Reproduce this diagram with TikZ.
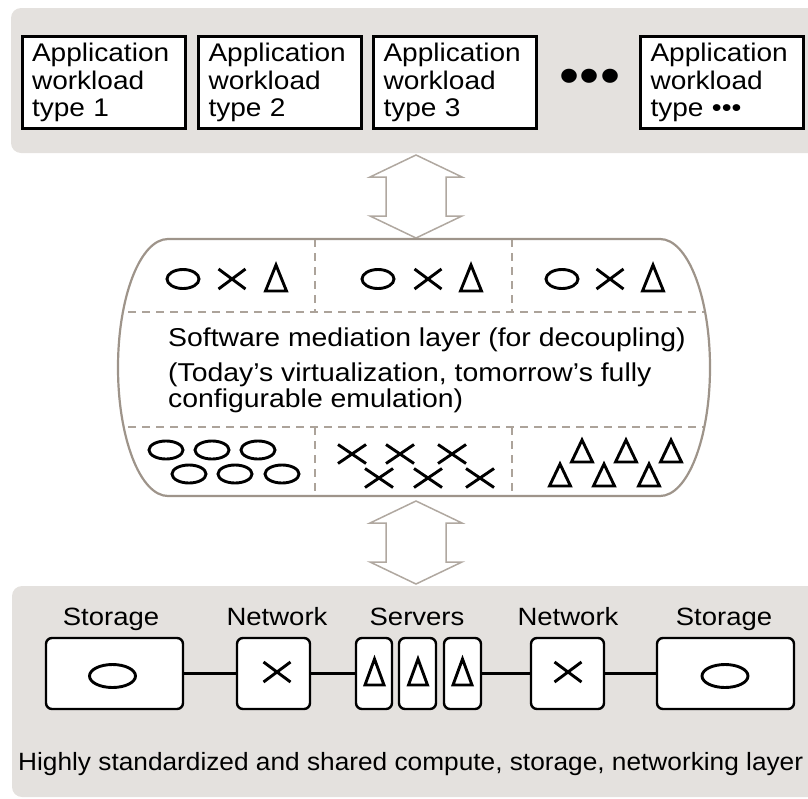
\documentclass[tikz,border=0pt]{standalone}
\usepackage{fontspec}
\setmainfont{Liberation Sans}[FakeStretch=1.1]
\newfontfamily\bottomfont{Liberation Sans}[FakeStretch=1.05]
\usetikzlibrary{calc}
\definecolor{panelgray}{RGB}{228,225,222}
\definecolor{capsline}{RGB}{158,148,138}
\definecolor{dashline}{RGB}{172,163,154}
\definecolor{arrowline}{RGB}{176,168,160}
\newcommand{\Osym}[4]{\draw[sym] (#1,#2) ellipse [x radius=#3, y radius=#4];}
\newcommand{\Xsym}[4]{\draw[sym] (#1-#3,#2-#4) -- (#1+#3,#2+#4) (#1-#3,#2+#4) -- (#1+#3,#2-#4);}
\newcommand{\Tsym}[4]{\draw[sym,line join=miter] (#1,#2) -- (#1+#4,#3) -- (#1-#4,#3) -- cycle;}
\newcommand{\dblarrow}[2]{%
  \draw[blockarrow] (#1) -- ++(46,22) -- ++(-16,0) -- ($(#2)+(30,-22)$) -- ++(16,0) -- (#2)
    -- ++(-46,-22) -- ++(16,0) -- ($(#1)+(-30,22)$) -- ++(-16,0) -- cycle;}
\def\capsulepath{(168,239) -- (660,239) .. controls (687.6,239) and (710,296.5) .. (710,367.5)
  .. controls (710,438.5) and (687.6,496) .. (660,496) -- (168,496)
  .. controls (140.4,496) and (118,438.5) .. (118,367.5)
  .. controls (118,296.5) and (140.4,239) .. (168,239) -- cycle}
\begin{document}
\begin{tikzpicture}[x=1pt,y=-1pt,
  panel/.style={fill=panelgray, rounded corners=10pt},
  appbox/.style={draw=black, line width=3pt, fill=white, align=left, text width=143pt,
    inner xsep=10pt, inner ysep=0pt, minimum height=92pt,
    font=\fontsize{25.5}{27.5}\selectfont},
  devbox/.style={draw=black, line width=2.4pt, fill=white, rounded corners=6pt,
    minimum height=71pt, inner sep=0pt},
  devlabel/.style={anchor=base, inner sep=0pt, font=\fontsize{25}{30}\selectfont},
  midtext/.style={anchor=base west, inner sep=0pt, font=\fontsize{25.8}{30}\selectfont},
  conn/.style={draw=black, line width=2.4pt},
  sym/.style={draw=black, line width=2.9pt},
  blockarrow/.style={draw=arrowline, line width=1.5pt, fill=white, line join=miter},
  capsule/.style={draw=capsline, line width=2.2pt},
  sep/.style={draw=dashline, line width=1.3pt, dash pattern=on 8pt off 6pt}
]
\useasboundingbox (0,0) rectangle (808,798);
\clip (0,0) rectangle (808,798);

% top panel
\fill[panel] (11,8) rectangle (830,153);
\node[appbox] (app1) at (103.5,82.5) {Application\\workload\\type 1};
\node[appbox] (app2) at (280,82.5) {Application\\workload\\type 2};
\node[appbox] (app3) at (455,82.5) {Application\\workload\\type 3};
\node[inner sep=0pt, font=\fontsize{52}{52}\selectfont] (more) at (590,81) {•••};
\node[appbox] (app4) at (722,82.5) {Application\\workload\\type •••};

% bottom panel
\fill[panel] (12,586) rectangle (830,797);

% arrows
\coordinate (u1) at (416,155);
\coordinate (u2) at (416,238);
\coordinate (d1) at (416,501);
\coordinate (d2) at (416,584);
\dblarrow{u1}{u2}
\dblarrow{d1}{d2}

% capsule
\fill[white] \capsulepath;
\begin{scope}
  \clip \capsulepath;
  \draw[sep] (100,312) -- (730,312);
  \draw[sep] (100,427) -- (730,427);
  \draw[sep] (315,239) -- (315,312);
  \draw[sep] (512,239) -- (512,312);
  \draw[sep] (315,427) -- (315,496);
  \draw[sep] (512,427) -- (512,496);
\end{scope}
\draw[capsule] \capsulepath;

% top row symbols
\Osym{183}{279}{16}{9.5}
\Xsym{232}{279}{13.5}{10}
\Tsym{276}{265}{291}{10.5}
\Osym{378}{279}{16}{9.5}
\Xsym{428}{279}{13.5}{10}
\Tsym{471}{265}{291}{10.5}
\Osym{562}{279}{16}{9.5}
\Xsym{610}{279}{13.5}{10}
\Tsym{653}{265}{291}{10.5}

% text
\node[midtext] (m1) at (168,346) {Software mediation layer (for decoupling)};
\node[midtext] (m2) at (168,381.7) {(Today’s virtualization, tomorrow’s fully};
\node[midtext] (m3) at (168,407.3) {configurable emulation)};

% bottom row symbols
\Osym{166}{450}{17}{9}
\Osym{212}{450}{17}{9}
\Osym{258}{450}{17}{9}
\Osym{189}{474}{17}{9}
\Osym{235}{474}{17}{9}
\Osym{282}{474}{17}{9}
\Xsym{352}{454}{14}{9.5}
\Xsym{400}{454}{14}{9.5}
\Xsym{452}{454}{14}{9.5}
\Xsym{379}{478}{14}{9.5}
\Xsym{428}{478}{14}{9.5}
\Xsym{480}{478}{14}{9.5}
\Tsym{582}{440}{462}{10.5}
\Tsym{626}{440}{462}{10.5}
\Tsym{671}{440}{462}{10.5}
\Tsym{560}{464}{486}{10.5}
\Tsym{604}{464}{486}{10.5}
\Tsym{649}{464}{486}{10.5}

% infrastructure
\node[devbox, minimum width=137pt] (s1) at (114.5,673.5) {};
\node[devbox, minimum width=73pt] (n1) at (273.5,673.5) {};
\node[devbox, minimum width=36pt] (v1) at (374,673.5) {};
\node[devbox, minimum width=37pt] (v2) at (417.5,673.5) {};
\node[devbox, minimum width=37pt] (v3) at (462.5,673.5) {};
\node[devbox, minimum width=73pt] (n2) at (567.5,673.5) {};
\node[devbox, minimum width=137pt] (s2) at (725.5,673.5) {};
\draw[conn] (s1) -- (n1);
\draw[conn] (n1) -- (v1);
\draw[conn] (v3) -- (n2);
\draw[conn] (n2) -- (s2);

\Osym{112.5}{676}{23}{11.5}
\Xsym{277}{672}{13.5}{10}
\Tsym{374.5}{659}{685}{9.5}
\Tsym{418}{659}{685}{9.5}
\Tsym{462.5}{659}{685}{9.5}
\Xsym{568}{672}{13.5}{10}
\Osym{725}{676}{23}{11.5}

\node[devlabel] (l1) at (111,625) {Storage};
\node[devlabel] (l2) at (277,625) {Network};
\node[devlabel] (l3) at (417,625) {Servers};
\node[devlabel] (l4) at (568,625) {Network};
\node[devlabel] (l5) at (724,625) {Storage};

\node[anchor=base west, inner sep=0pt, font=\bottomfont\fontsize{25}{30}\selectfont] (foot) at (18,770)
  {Highly standardized and shared compute, storage, networking layer};
\end{tikzpicture}
\end{document}
